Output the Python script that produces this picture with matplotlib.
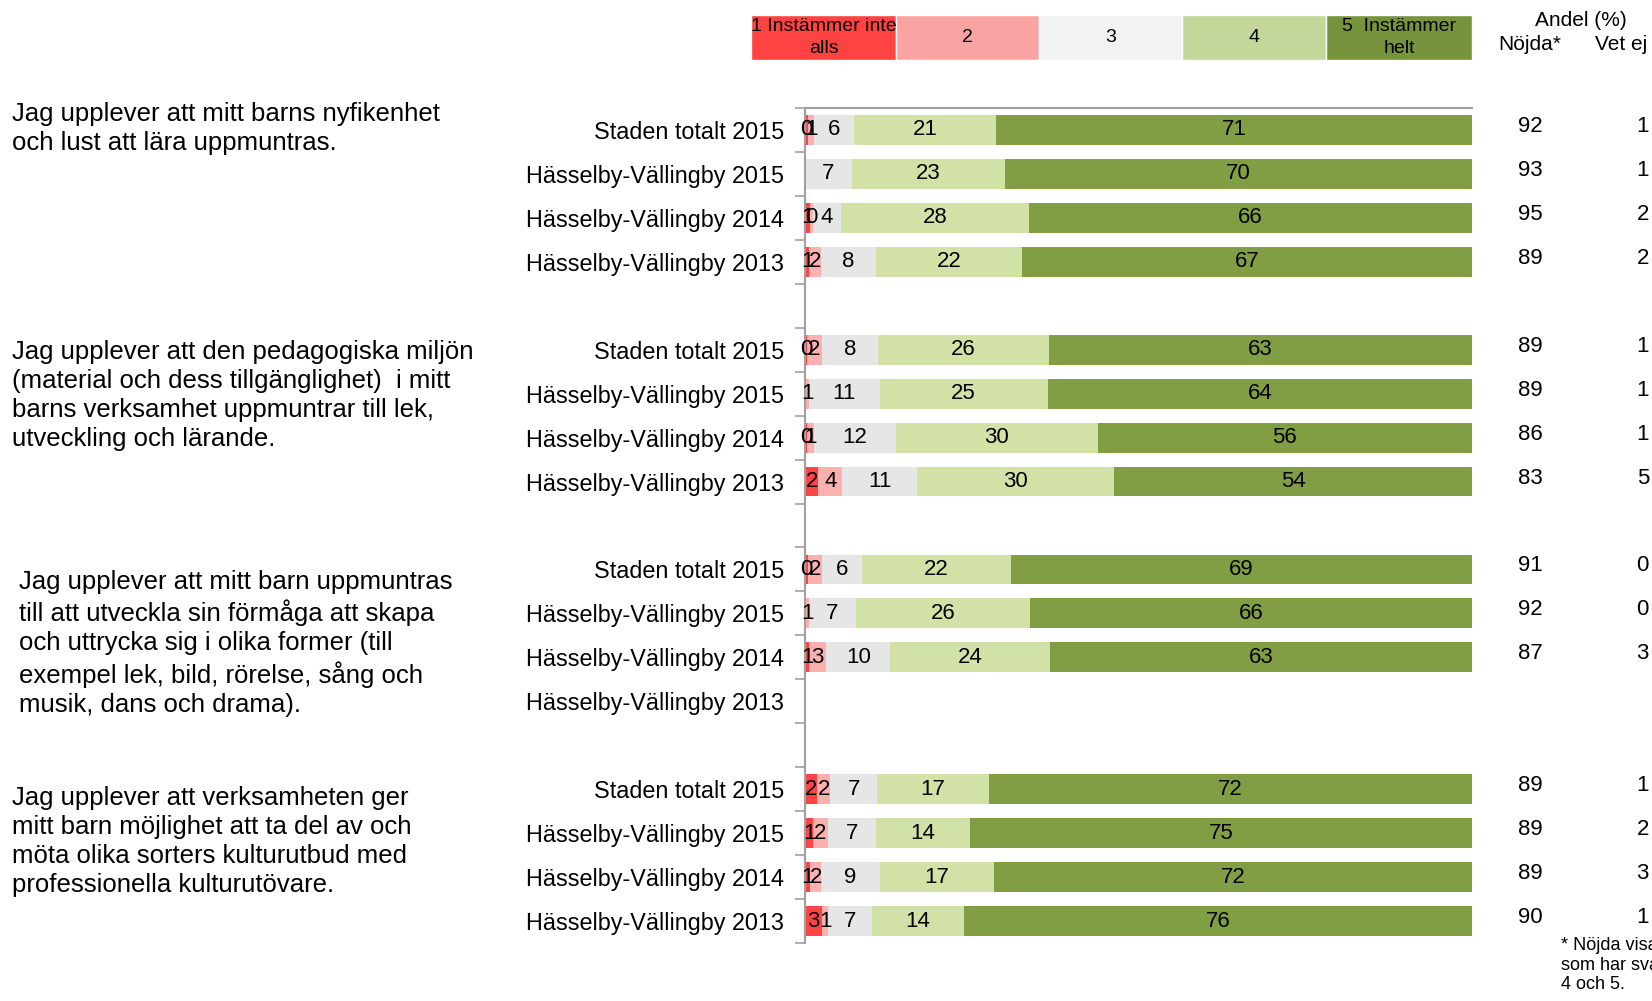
import matplotlib.pyplot as plt
import numpy as np

plt.rcParams['font.family'] = ['Liberation Sans', 'DejaVu Sans']

W, H = 1652, 1001

questions = [
    "Jag upplever att mitt barns nyfikenhet\noch lust att lära uppmuntras.",
    "Jag upplever att den pedagogiska miljön\n(material och dess tillgänglighet)  i mitt\nbarns verksamhet uppmuntrar till lek,\nutveckling och lärande.",
    "Jag upplever att mitt barn uppmuntras\ntill att utveckla sin förmåga att skapa\noch uttrycka sig i olika former (till\nexempel lek, bild, rörelse, sång och\nmusik, dans och drama).",
    "Jag upplever att verksamheten ger\nmitt barn möjlighet att ta del av och\nmöta olika sorters kulturutbud med\nprofessionella kulturutövare.",
]
groups = ["Staden totalt 2015", "Hässelby-Vällingby 2015",
          "Hässelby-Vällingby 2014", "Hässelby-Vällingby 2013"]

# andel per svarsalternativ 1..5, fyra rader per fråga
v1 = [0.4, 0.0, 0.8, 0.6, 0.3, 0.0, 0.3, 2.0, 0.4, 0.0, 0.6, 0, 1.8, 1.2, 0.8, 2.6]
v2 = [1.0, 0.0, 0.4, 1.8, 2.2, 0.6, 1.0, 3.6, 2.1, 0.6, 2.6, 0, 2.0, 2.2, 1.6, 0.8]
v3 = [6.0, 7.0, 4.2, 8.2, 8.4, 10.6, 12.3, 11.2, 6.0, 7.0, 9.6, 0, 7.0, 7.2, 8.8, 6.6]
v4 = [21.2, 23.0, 28.2, 22.0, 25.7, 25.2, 30.3, 29.6, 22.4, 26.2, 24.0, 0, 16.8, 14.1, 17.1, 13.8]
v5 = [71.4, 70.0, 66.4, 67.4, 63.4, 63.6, 56.1, 53.6, 69.1, 66.2, 63.2, 0, 72.4, 75.3, 71.7, 76.2]

nojda = ["92", "93", "95", "89", "89", "89", "86", "83", "91", "92", "87", "", "89", "89", "89", "90"]
vet_ej = ["1", "1", "2", "2", "1", "1", "1", "5", "0", "0", "3", "", "1", "2", "3", "1"]

legend_labels = ["1 Instämmer inte\nalls", "2", "3", "4", "5  Instämmer\nhelt"]
legend_colors = ['#FF4343', '#FAA3A3', '#F2F2F2', '#C4D79B', '#77933C']
bar_colors = ['#FF4444', '#FDB0B0', '#E6E6E6', '#D2E1A6', '#829E45']

fig = plt.figure(figsize=(W / 100, H / 100), dpi=100)

x0, x1 = 805, 1472
ax = fig.add_axes([x0 / W, 1 - 943 / H, (x1 - x0) / W, (943 - 108) / H])

# en tom rad mellan varje fråga
row_labels = groups * len(questions)
y = np.array([g * 5 + k for g in range(len(questions)) for k in range(len(groups))])
left = np.zeros(len(y))
for vals, col in zip([v1, v2, v3, v4, v5], bar_colors):
    vals = np.array(vals, dtype=float)
    bars = ax.barh(y, vals, left=left, height=0.68, color=col, edgecolor='none')
    labels = ['%.0f' % v if v > 0 else '' for v in vals]
    ax.bar_label(bars, labels=labels, label_type='center', fontsize=16, color='black')
    left += vals

ax.set_xlim(0, 100)
ax.set_ylim(18.5, -0.5)
ax.set_xticks([])
ax.set_yticks(y)
ax.set_yticklabels(row_labels, fontsize=16.8)
ax.set_yticks(np.arange(-0.5, 19, 1), minor=True)
ax.tick_params(axis='y', which='major', length=0, pad=15)
ax.tick_params(axis='y', which='minor', length=7, color='#A0A0A0', width=1.2)
for s in ['right', 'bottom']:
    ax.spines[s].set_visible(False)
for s in ['left', 'top']:
    ax.spines[s].set_color('#A0A0A0')
    ax.spines[s].set_linewidth(1.5)

# andel nöjda och vet ej till höger
for yy, n, v in zip(y, nojda, vet_ej):
    ax.text(1.088, yy - 0.08, n, transform=ax.get_yaxis_transform(), ha='center', va='center',
            fontsize=16, clip_on=False)
    ax.text(1.256, yy - 0.08, v, transform=ax.get_yaxis_transform(), ha='center', va='center',
            fontsize=16, clip_on=False)

# frågetexter
q_tops = [102, 340, 570, 786]
q_x = [12, 12, 19, 12]
for q, top, qx in zip(questions, q_tops, q_x):
    fig.text(qx / W, 1 - top / H, q, ha='left', va='top', fontsize=18.5, linespacing=1.26)

# förklaring överst
lax = fig.add_axes([751 / W, 1 - 60 / H, (x1 - 751) / W, 45 / H])
bw = [145, 143, 143, 144, 146]
lx = np.cumsum([0] + bw[:-1])
lax.barh(0, bw, left=lx, height=1, color=legend_colors, edgecolor='white', linewidth=1)
for xx, w, lab in zip(lx, bw, legend_labels):
    lax.text(xx + w / 2, 0, lab, ha='center', va='center', fontsize=14, linespacing=1.35)
lax.set_xlim(0, sum(bw))
lax.set_ylim(-0.5, 0.5)
lax.axis('off')

fig.text(1581 / W, 1 - 21 / H, "Andel (%)", ha='center', va='center', fontsize=15)
fig.text(1530 / W, 1 - 45 / H, "Nöjda*", ha='center', va='center', fontsize=15)
fig.text(1621 / W, 1 - 45 / H, "Vet ej", ha='center', va='center', fontsize=15)

fig.text(1561 / W, 1 - 937 / H, "* Nöjda visar andelen\nsom har svarat\n4 och 5.",
         ha='left', va='top', fontsize=13, linespacing=1.2)

plt.savefig('out.png', dpi=100)
